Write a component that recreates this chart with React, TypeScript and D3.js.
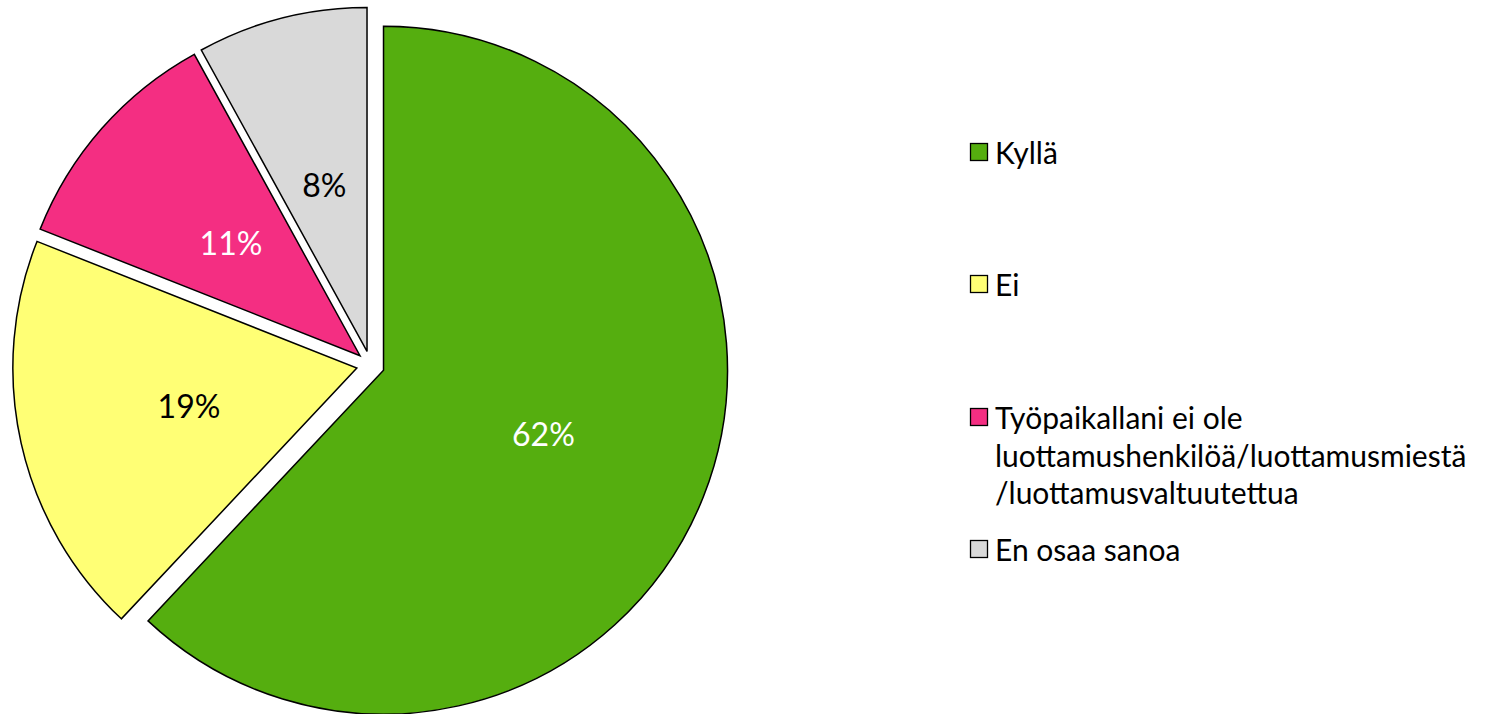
import React from "react";
import * as d3 from "d3";

const categories = [
  "Kyllä",
  "Ei",
  "Työpaikallani ei ole luottamushenkilöä/luottamusmiestä/luottamusvaltuutettua",
  "En osaa sanoa",
];
const values = [62, 19, 11, 8];
const legendLines = [
  ["Kyllä"],
  ["Ei"],
  ["Työpaikallani ei ole", "luottamushenkilöä/luottamusmiestä", "/luottamusvaltuutettua"],
  ["En osaa sanoa"],
];
const colors = ["#55ae0f", "#ffff75", "#f42e82", "#d9d9d9"];
const labelColors = ["#ffffff", "#000000", "#ffffff", "#000000"];

const W = 1489;
const H = 714;
const cx = 370.5;
const cy = 365;
const R = 344;
const explode = 14;
const font = "Lato, 'Open Sans', sans-serif";

export default function App() {
  const pie = d3
    .pie<number>()
    .sort(null)
    .value((d) => d);
  const arcs = pie(values);
  const arc = d3.arc<d3.PieArcDatum<number>>().innerRadius(0).outerRadius(R);

  const legendTop = [143, 275, 408, 540];
  const lineH = 37.5;

  return (
    <svg
      width={W}
      height={H}
      style={{ position: "absolute", left: 0, top: 0, display: "block" }}
    >
      <rect width={W} height={H} fill="#ffffff" />
      {arcs.map((a, i) => {
        const mid = (a.startAngle + a.endAngle) / 2;
        const dx = Math.sin(mid) * explode;
        const dy = -Math.cos(mid) * explode;
        const [lx, ly] = arc.centroid(a);
        return (
          <g key={i} transform={`translate(${cx + dx},${cy + dy})`}>
            <path
              d={arc(a) || ""}
              fill={colors[i]}
              stroke="#000"
              strokeWidth={1.5}
              strokeLinejoin="miter"
            />
            <text
              x={lx}
              y={ly}
              textAnchor="middle"
              dominantBaseline="central"
              fontFamily={font}
              fontSize={32}
              fill={labelColors[i]}
            >
              {values[i]}%
            </text>
          </g>
        );
      })}
      {categories.map((c, i) => (
        <g key={c}>
          <rect
            x={970.5}
            y={legendTop[i] + 0.5}
            width={17}
            height={17}
            fill={colors[i]}
            stroke="#000"
            strokeWidth={1.3}
          />
          {legendLines[i].map((t, k) => (
            <text
              key={k}
              x={995}
              y={legendTop[i] + 9 + k * lineH}
              dominantBaseline="central"
              fontFamily={font}
              fontSize={30}
              fill="#000"
            >
              {t}
            </text>
          ))}
        </g>
      ))}
    </svg>
  );
}
